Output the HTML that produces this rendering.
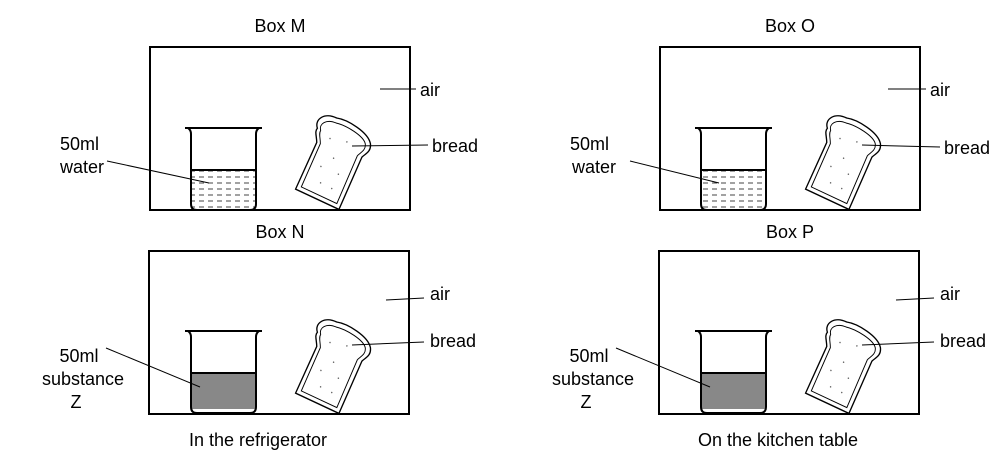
<!DOCTYPE html>
<html><head><meta charset="utf-8"><style>
html,body{margin:0;padding:0;background:#fff;}
svg{display:block;}
text{font-family:"Liberation Sans",Arial,sans-serif;font-size:18px;fill:#000;}
</style></head><body>
<svg width="1001" height="464" viewBox="0 0 1001 464">
<defs>
<pattern id="dash" width="9" height="6" patternUnits="userSpaceOnUse">
<line x1="1" y1="3" x2="6" y2="3" stroke="#444" stroke-width="1"/>
</pattern>
<g id="beaker">
<path d="M0,0 L77,0 M3,0 Q6,2 6,6 L6,76 Q6,82 12,82 L65,82 Q71,82 71,76 L71,6 Q71,2 74,0" fill="none" stroke="#000" stroke-width="2"/>
</g>
<g id="bread">
<path d="M4,14 C-2,6 6,-4 20,-2 C32,-4 56,2 62,12 C66,20 60,24 58,28 L52,86 L2,80 L8,28 C6,22 2,18 4,14 Z" fill="#fff" stroke="#000" stroke-width="1.4"/>
<path d="M8,15 C4,9 10,2 21,3 C32,2 53,7 57,14 C60,20 55,24 53,28 L48,81 L7,76 L12,28 C10,22 7,19 8,15 Z" fill="none" stroke="#000" stroke-width="1"/>
<g fill="#666"><circle cx="20" cy="20" r="0.8"/><circle cx="38" cy="18" r="0.8"/><circle cx="30" cy="38" r="0.8"/><circle cx="20" cy="50" r="0.8"/><circle cx="40" cy="52" r="0.8"/><circle cx="25" cy="66" r="0.8"/><circle cx="38" cy="68" r="0.8"/></g>
</g>
</defs>

<g>
<text x="280" y="32" text-anchor="middle">Box  M</text>
<rect x="150" y="47" width="260" height="163" fill="none" stroke="#000" stroke-width="2"/>
<rect x="191" y="170" width="65" height="39" fill="url(#dash)"/>
<line x1="191" y1="170" x2="256" y2="170" stroke="#000" stroke-width="2"/>
<use href="#beaker" x="185" y="128"/>
<use href="#bread" transform="translate(318,114) rotate(18) scale(0.95,0.98)"/>
<line x1="380" y1="89" x2="416" y2="89" stroke="#000"/>
<text x="420" y="96">air</text>
<line x1="352" y1="146" x2="428" y2="145" stroke="#000"/>
<text x="432" y="152">bread</text>
<text x="60" y="150">50ml</text>
<text x="60" y="173">water</text>
<line x1="107" y1="161" x2="209" y2="183" stroke="#000"/>
</g>

<g>
<text x="280" y="238" text-anchor="middle">Box  N</text>
<rect x="149" y="251" width="260" height="163" fill="none" stroke="#000" stroke-width="2"/>
<rect x="191" y="373" width="65" height="36" fill="#888"/>
<line x1="191" y1="373" x2="256" y2="373" stroke="#000" stroke-width="2"/>
<use href="#beaker" x="185" y="331"/>
<use href="#bread" transform="translate(318,318) rotate(18) scale(0.95,0.98)"/>
<line x1="386" y1="300" x2="424" y2="298" stroke="#000"/>
<text x="430" y="300">air</text>
<line x1="352" y1="345" x2="424" y2="342" stroke="#000"/>
<text x="430" y="347">bread</text>
<text x="79" y="362" text-anchor="middle">50ml</text>
<text x="83" y="385" text-anchor="middle">substance</text>
<text x="76" y="408" text-anchor="middle">Z</text>
<line x1="106" y1="348" x2="200" y2="387" stroke="#000"/>
<text x="258" y="446" text-anchor="middle">In the refrigerator</text>
</g>

<g>
<text x="790" y="32" text-anchor="middle">Box O</text>
<rect x="660" y="47" width="260" height="163" fill="none" stroke="#000" stroke-width="2"/>
<rect x="701" y="170" width="65" height="39" fill="url(#dash)"/>
<line x1="701" y1="170" x2="766" y2="170" stroke="#000" stroke-width="2"/>
<use href="#beaker" x="695" y="128"/>
<use href="#bread" transform="translate(828,114) rotate(18) scale(0.95,0.98)"/>
<line x1="888" y1="89" x2="926" y2="89" stroke="#000"/>
<text x="930" y="96">air</text>
<line x1="862" y1="145" x2="940" y2="147" stroke="#000"/>
<text x="944" y="154">bread</text>
<text x="570" y="150">50ml</text>
<text x="572" y="173">water</text>
<line x1="630" y1="161" x2="719" y2="183" stroke="#000"/>
</g>

<g>
<text x="790" y="238" text-anchor="middle">Box  P</text>
<rect x="659" y="251" width="260" height="163" fill="none" stroke="#000" stroke-width="2"/>
<rect x="701" y="373" width="65" height="36" fill="#888"/>
<line x1="701" y1="373" x2="766" y2="373" stroke="#000" stroke-width="2"/>
<use href="#beaker" x="695" y="331"/>
<use href="#bread" transform="translate(828,318) rotate(18) scale(0.95,0.98)"/>
<line x1="896" y1="300" x2="934" y2="298" stroke="#000"/>
<text x="940" y="300">air</text>
<line x1="862" y1="345" x2="934" y2="342" stroke="#000"/>
<text x="940" y="347">bread</text>
<text x="589" y="362" text-anchor="middle">50ml</text>
<text x="593" y="385" text-anchor="middle">substance</text>
<text x="586" y="408" text-anchor="middle">Z</text>
<line x1="616" y1="348" x2="710" y2="387" stroke="#000"/>
<text x="778" y="446" text-anchor="middle">On the kitchen table</text>
</g>
</svg>
</body></html>
